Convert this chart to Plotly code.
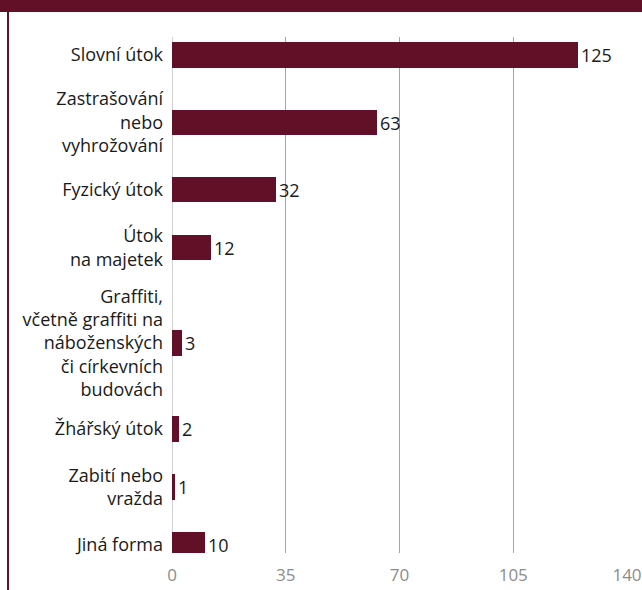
import plotly.graph_objects as go

categories = [
    "Slovní útok",
    "Zastrašování<br>nebo<br>vyhrožování",
    "Fyzický útok",
    "Útok<br>na majetek",
    "Graffiti,<br>včetně graffiti na<br>náboženských<br>či církevních<br>budovách",
    "Žhářský útok",
    "Zabití nebo<br>vražda",
    "Jiná forma",
]
values = [125, 63, 32, 12, 3, 2, 1, 10]
x_ticks = [0, 35, 70, 105, 140]

MAROON = "#621027"
FONT = "Open Sans"
W, H = 642, 590
ML, MR, MT, MB = 172, 15, 37, 37

# band heights derived from number of label lines
lines = [c.count("<br>") + 1 for c in categories]
bands = [30 + 18.7 * n for n in lines]
centers = []
for i, b in enumerate(bands):
    if i == 0:
        centers.append(0)
    else:
        centers.append(centers[-1] + (bands[i - 1] + b) / 2)

fig = go.Figure(
    go.Bar(
        x=values,
        y=centers,
        orientation="h",
        width=25.5,
        marker=dict(color=MAROON, line=dict(width=0)),
        text=[str(v) for v in values],
        textposition="outside",
        textfont=dict(size=18, color="#1a1a1a", family=FONT),
        cliponaxis=False,
        hoverinfo="skip",
    )
)

plot_h = H - MT - MB
plot_w = W - ML - MR
fig.update_layout(
    width=W,
    height=H,
    margin=dict(l=ML, r=MR, t=MT, b=MB, autoexpand=False),
    paper_bgcolor="white",
    plot_bgcolor="white",
    showlegend=False,
    font=dict(family=FONT, size=18, color="#1a1a1a"),
    xaxis=dict(
        range=[0, 140],
        tickvals=x_ticks,
        ticktext=[str(t) for t in x_ticks],
        showgrid=True,
        gridcolor="#a6a6a6",
        gridwidth=1,
        zeroline=False,
        showline=False,
        tickfont=dict(size=17, color="#8c8c8c", family=FONT),
        ticks="",
        ticklabelstandoff=10,
        ticklabeloverflow="allow",
        automargin=False,
        fixedrange=True,
    ),
    yaxis=dict(
        range=[centers[-1] + 8, -18],
        tickvals=centers,
        ticktext=categories,
        showgrid=False,
        zeroline=False,
        showline=False,
        ticks="",
        ticklabelstandoff=8,
        tickfont=dict(size=18, color="#1a1a1a", family=FONT),
        automargin=False,
        fixedrange=True,
    ),
    bargap=0,
    shapes=[
        # top band
        dict(type="rect", xref="paper", yref="paper",
             x0=-ML / plot_w, x1=1 + MR / plot_w,
             y0=1 + (MT - 12) / plot_h, y1=1 + MT / plot_h,
             fillcolor=MAROON, line=dict(width=0), layer="above"),
        # left border line
        dict(type="line", xref="paper", yref="paper",
             x0=-(ML - 8) / plot_w, x1=-(ML - 8) / plot_w,
             y0=-MB / plot_h, y1=1 + (MT - 12) / plot_h,
             line=dict(color=MAROON, width=2)),
        # zero axis line
        dict(type="line", xref="x", yref="paper",
             x0=0, x1=0, y0=0, y1=1,
             line=dict(color="#a6a6a6", width=1), layer="below"),
    ],
)

fig.write_html(
    "out.html",
    config={"displayModeBar": False},
    post_script="document.body.style.margin='0';document.body.style.overflow='hidden';",
)
